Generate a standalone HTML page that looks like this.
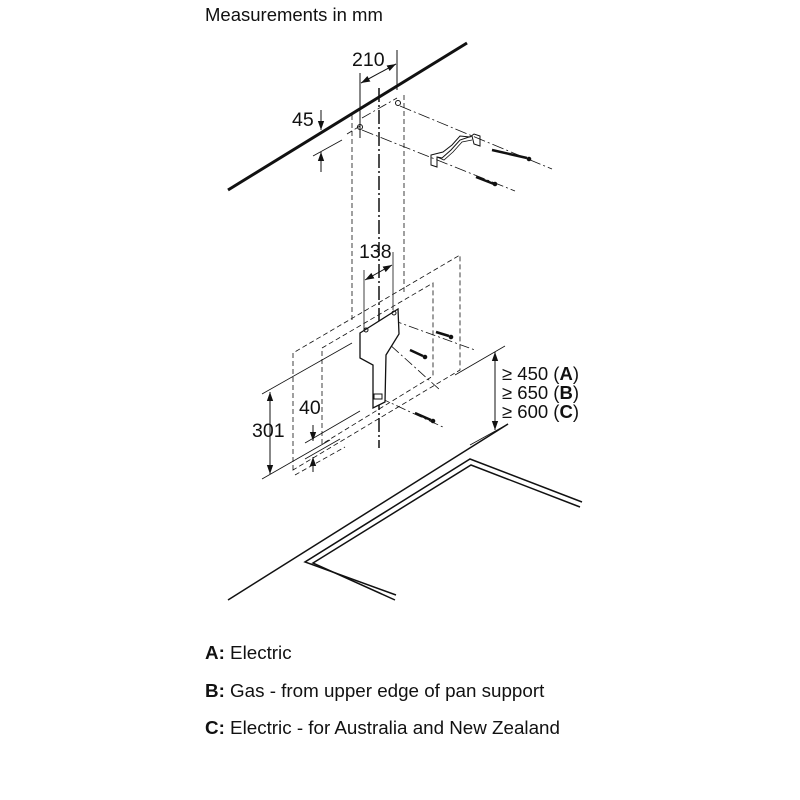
<!DOCTYPE html>
<html><head><meta charset="utf-8"><style>
html,body{margin:0;padding:0;background:#fff;width:800px;height:800px;overflow:hidden}
svg{display:block}
text{font-family:"Liberation Sans",Arial,sans-serif;fill:#111}
</style></head><body>
<svg width="800" height="800" viewBox="0 0 800 800">
<defs>
<marker id="ar" viewBox="0 0 10 10" refX="10" refY="5" markerWidth="9" markerHeight="9" orient="auto-start-reverse" markerUnits="userSpaceOnUse"><path d="M0,1.5 L10,5 L0,8.5 z" fill="#111"/></marker>
</defs>
<text x="205" y="21" font-size="18.5">Measurements in mm</text>

<g stroke="#111" fill="none">
<line x1="228" y1="190" x2="467" y2="43" stroke-width="3"/>
<line x1="360" y1="73" x2="360" y2="138" stroke-width="1"/>
<line x1="397" y1="50" x2="397" y2="90" stroke-width="1"/>
<line x1="361" y1="83" x2="396" y2="64" stroke-width="1" marker-start="url(#ar)" marker-end="url(#ar)"/>
<line x1="321" y1="110" x2="321" y2="130" stroke-width="1" marker-end="url(#ar)"/>
<line x1="321" y1="172" x2="321" y2="152" stroke-width="1" marker-end="url(#ar)"/>
<line x1="313" y1="156" x2="342" y2="140" stroke-width="0.8"/>
<line x1="379" y1="88" x2="379" y2="448" stroke-width="1.5" stroke-dasharray="14,3,2,3"/>
<line x1="352" y1="115" x2="352" y2="322" stroke-width="0.8" stroke-dasharray="5,3"/>
<line x1="404" y1="95" x2="404" y2="292" stroke-width="0.8" stroke-dasharray="5,3"/>
<line x1="362" y1="118" x2="397" y2="98" stroke-width="0.8" stroke-dasharray="10,3,2,3"/>
<line x1="347" y1="134" x2="360" y2="126" stroke-width="0.8" stroke-dasharray="6,3"/>
<circle cx="360" cy="127" r="2.5" stroke-width="1"/>
<circle cx="398" cy="103" r="2.5" stroke-width="1"/>
<line x1="362" y1="130" x2="515" y2="191" stroke-width="0.8" stroke-dasharray="12,3,2,3"/>
<line x1="400" y1="106" x2="552" y2="169" stroke-width="0.8" stroke-dasharray="12,3,2,3"/>
<path d="M431,155 L431,165 L437,167 L437,157 L442,158 L451,150 L460,140 L472,136 L474,144 L480,146 L480,136 L474,134 L470,137 L460,136 L452,145 L443,152 Z" stroke-width="1"/>
<path d="M437,157 L444,160 L453,152 L462,142 L472,140" stroke-width="0.8"/>
<line x1="492" y1="150" x2="527" y2="158" stroke-width="2.5"/>
<circle cx="529" cy="159" r="1.8" fill="#111"/>
<line x1="476" y1="177" x2="494" y2="184" stroke-width="2.5"/>
<circle cx="495" cy="184" r="1.8" fill="#111"/>
<line x1="364" y1="270" x2="364" y2="330" stroke-width="0.8"/>
<line x1="393" y1="252" x2="393" y2="310" stroke-width="0.8"/>
<line x1="365" y1="280" x2="392" y2="265" stroke-width="1" marker-start="url(#ar)" marker-end="url(#ar)"/>
<path d="M293,470 L293,353 L460,255 L460,370 Z" stroke-width="0.8" stroke-dasharray="5,3"/>
<path d="M322,444 L322,348 L433,283 L433,376 Z" stroke-width="0.8" stroke-dasharray="5,3"/>
<line x1="295" y1="475" x2="345" y2="447" stroke-width="0.8" stroke-dasharray="5,3"/>
<line x1="392" y1="320" x2="475" y2="350" stroke-width="0.8" stroke-dasharray="10,3,2,3"/>
<line x1="378" y1="334" x2="440" y2="390" stroke-width="0.8" stroke-dasharray="10,3,2,3"/>
<line x1="380" y1="398" x2="445" y2="428" stroke-width="0.8" stroke-dasharray="10,3,2,3"/>
<line x1="436" y1="332" x2="449" y2="336" stroke-width="2.5"/>
<circle cx="451" cy="337" r="1.8" fill="#111"/>
<line x1="410" y1="350" x2="423" y2="356" stroke-width="2.5"/>
<circle cx="425" cy="357" r="1.8" fill="#111"/>
<line x1="415" y1="413" x2="431" y2="420" stroke-width="2.5"/>
<circle cx="433" cy="421" r="1.8" fill="#111"/>
<path d="M360,333 L398,309 L399,334 L386,355 L385,402 L373,408 L373,365 L360,358 Z" stroke-width="1.3" fill="#fff"/>
<circle cx="366" cy="330" r="2" stroke-width="1"/>
<circle cx="394" cy="313" r="2" stroke-width="1"/>
<rect x="374" y="394" width="8" height="5" stroke-width="1"/>
<line x1="262" y1="394" x2="352" y2="343" stroke-width="0.8"/>
<line x1="262" y1="479" x2="330" y2="440" stroke-width="0.8"/>
<line x1="270" y1="392" x2="270" y2="474" stroke-width="1" marker-start="url(#ar)" marker-end="url(#ar)"/>
<line x1="305" y1="443" x2="360" y2="411" stroke-width="0.8"/>
<line x1="305" y1="459" x2="340" y2="439" stroke-width="0.8"/>
<line x1="313" y1="425" x2="313" y2="441" stroke-width="1" marker-end="url(#ar)"/>
<line x1="313" y1="472" x2="313" y2="457" stroke-width="1" marker-end="url(#ar)"/>
<line x1="455" y1="375" x2="505" y2="346" stroke-width="0.8"/>
<line x1="470" y1="445" x2="508" y2="424" stroke-width="0.8"/>
<line x1="495" y1="352" x2="495" y2="430" stroke-width="1" marker-start="url(#ar)" marker-end="url(#ar)"/>
<line x1="228" y1="600" x2="508" y2="424" stroke-width="1.5"/>
<polyline points="396,595 305,562 470,459 582,502" stroke-width="1.5"/>
<polyline points="395,600 313,563 471,465 580,507" stroke-width="1.5"/>
</g>

<text x="352" y="66" font-size="19.5">210</text>
<text x="292" y="126" font-size="19.5">45</text>
<text x="359" y="258" font-size="19.5">138</text>
<text x="252" y="437" font-size="19.5">301</text>
<text x="299" y="414" font-size="19.5">40</text>
<text x="502" y="380" font-size="18.5">≥ 450 (<tspan font-weight="bold">A</tspan>)</text>
<text x="502" y="399" font-size="18.5">≥ 650 (<tspan font-weight="bold">B</tspan>)</text>
<text x="502" y="418" font-size="18.5">≥ 600 (<tspan font-weight="bold">C</tspan>)</text>

<text x="205" y="659" font-size="18.8"><tspan font-weight="bold">A:</tspan> Electric</text>
<text x="205" y="697" font-size="18.8"><tspan font-weight="bold">B:</tspan> Gas - from upper edge of pan support</text>
<text x="205" y="734" font-size="18.8"><tspan font-weight="bold">C:</tspan> Electric - for Australia and New Zealand</text>
</svg>
</body></html>
